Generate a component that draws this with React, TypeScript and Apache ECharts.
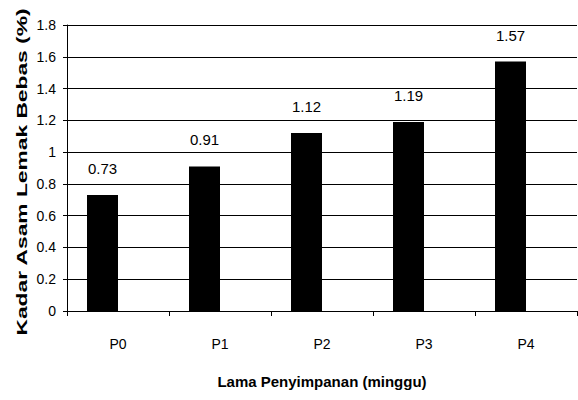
import React, { useEffect, useRef } from "react";
import * as echarts from "echarts";

const categories = ["P0", "P1", "P2", "P3", "P4"];
const values = [0.73, 0.91, 1.12, 1.19, 1.57];
const spacerValues = [0, 0, 0, 0, 0];
const yMin = 0;
const yMax = 1.8;
const yStep = 0.2;
const yGridValues = [0.2, 0.4, 0.6, 0.8, 1, 1.2, 1.4, 1.6, 1.8];
const xTitle = "Lama Penyimpanan (minggu)";
const yTitle = "Kadar Asam Lemak Bebas (%)";

const NARROW = "'Liberation Sans Narrow', 'Arial Narrow', 'Liberation Sans', Arial, sans-serif";
const SANS = "'Liberation Sans', Arial, sans-serif";

export default function App() {
  const ref = useRef<HTMLDivElement>(null);
  useEffect(() => {
    if (!ref.current) return;
    const chart = echarts.init(ref.current, null, { renderer: "svg" });
    chart.setOption({
      animation: false,
      grid: { left: 67, top: 25, right: 1, bottom: 89 },
      xAxis: {
        type: "category",
        data: categories,
        name: xTitle,
        nameLocation: "middle",
        nameGap: 63,
        nameTextStyle: { fontFamily: NARROW, fontWeight: "bold", fontSize: 15, color: "#000" },
        axisLine: { lineStyle: { color: "#000", width: 1 } },
        axisTick: { show: true, alignWithLabel: false, length: 5, lineStyle: { color: "#000" } },
        axisLabel: { fontFamily: NARROW, fontSize: 14, color: "#000", margin: 26 },
        splitLine: { show: false },
      },
      yAxis: {
        type: "value",
        min: yMin,
        max: yMax,
        interval: yStep,
        axisLine: { show: true, lineStyle: { color: "#000" } },
        axisTick: { show: true, length: 4, lineStyle: { color: "#000" } },
        axisLabel: { fontFamily: NARROW, fontSize: 14, color: "#000", margin: 11 },
        splitLine: { show: true, lineStyle: { color: "#000" } },
      },
      graphic: [
        {
          type: "text",
          x: 22,
          y: 172,
          rotation: Math.PI / 2,
          scaleX: 1.52,
          style: {
            text: yTitle,
            fontFamily: SANS,
            fontWeight: "bold",
            fontSize: 15,
            fill: "#000",
            textAlign: "center",
            textVerticalAlign: "middle",
          },
        },
      ],
      series: [
        {
          type: "bar",
          data: values,
          barWidth: 31,
          barGap: "0%",
          itemStyle: { color: "#000" },
          label: {
            show: true,
            position: "top",
            distance: 19,
            fontFamily: NARROW,
            fontSize: 15,
            color: "#000",
          },
          markLine: {
            silent: true,
            symbol: ["none", "none"],
            label: { show: false },
            lineStyle: { color: "#000", type: "solid", width: 1 },
            emphasis: { disabled: true },
            z: 1,
            data: yGridValues.map((v) => ({ yAxis: v })),
          },
        },
        {
          type: "bar",
          data: spacerValues,
          barWidth: 31,
          barGap: "0%",
          silent: true,
          itemStyle: { color: "#fff", opacity: 0 },
        },
      ],
    });
    return () => chart.dispose();
  }, []);
  return <div ref={ref} style={{ width: 578, height: 400, position: "absolute", left: 0, top: 0 }} />;
}
